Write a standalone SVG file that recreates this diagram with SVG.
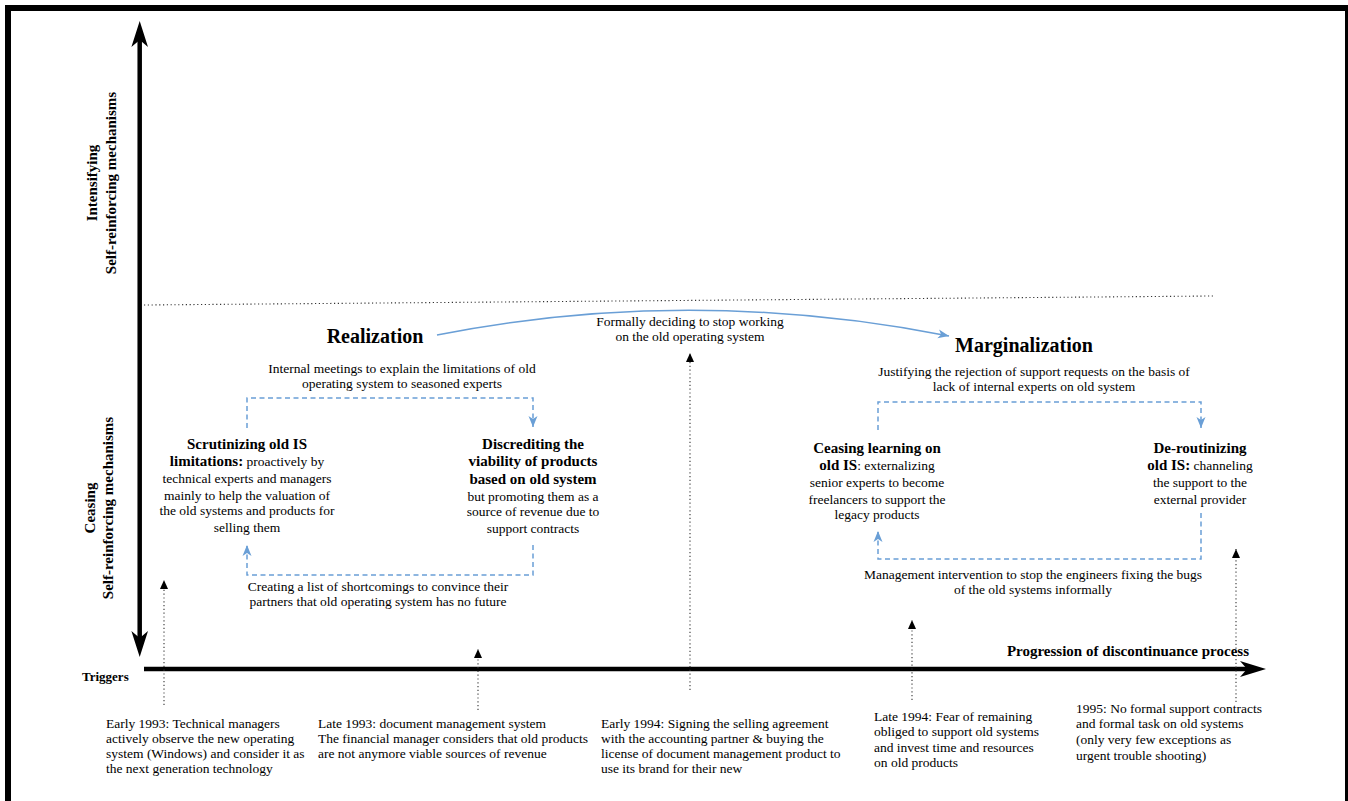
<svg xmlns="http://www.w3.org/2000/svg" width="1348" height="801" viewBox="0 0 1348 801">
<style>
text{font-family:"Liberation Serif","Times New Roman",serif;fill:#000}
.t{font-size:13.5px}
.c{text-anchor:middle}
.b{font-weight:bold}
.h{font-size:15px;font-weight:bold}
.big{font-size:20px;font-weight:bold}
.dot{stroke:#333;stroke-width:1.1;stroke-dasharray:1.2 2.6;fill:none}
.dash{stroke:#6a9fd6;stroke-width:1.5;stroke-dasharray:5 3.5;fill:none}
.axis{stroke:#000;stroke-width:4.5;fill:none}
</style>
<defs>
<marker id="bh" markerUnits="userSpaceOnUse" markerWidth="12" markerHeight="10" refX="11" refY="5" orient="auto">
<path d="M0,0.5 L11,5 L0,9.5 L3,5 z" fill="#6a9fd6"/>
</marker>
<marker id="kh" markerUnits="userSpaceOnUse" markerWidth="10" markerHeight="10" refX="9" refY="4.5" orient="auto">
<path d="M0,0.5 L9,4.5 L0,8.5 z" fill="#000"/>
</marker>
</defs>
<rect x="8" y="8" width="1340" height="800" fill="#fff" stroke="#000" stroke-width="6"/>

<g id="connectors">
<line class="axis" x1="139.7" y1="40" x2="139.7" y2="640"/>
<polygon points="139.7,21 148,47 139.7,40 131.4,47" fill="#000"/>
<polygon points="139.7,657 148,631 139.7,638 131.4,631" fill="#000"/>
<line class="axis" x1="144" y1="669" x2="1250" y2="669"/>
<polygon points="1266,669 1240,661 1247,669 1240,677" fill="#000"/>
<line class="dot" x1="144" y1="305" x2="1213" y2="296"/>
<path d="M437,335 Q690,285 949,336" stroke="#6a9fd6" stroke-width="1.5" fill="none" marker-end="url(#bh)"/>
<path class="dash" d="M247,428 V398 H533 V427" marker-end="url(#bh)"/>
<path class="dash" d="M533,545 V575 H247 V545" marker-end="url(#bh)"/>
<path class="dash" d="M878,430 V402 H1201 V428" marker-end="url(#bh)"/>
<path class="dash" d="M1201,513 V559 H878 V531" marker-end="url(#bh)"/>
<line class="dot" x1="164" y1="705" x2="164" y2="580" marker-end="url(#kh)"/>
<line class="dot" x1="478" y1="710" x2="478" y2="649" marker-end="url(#kh)"/>
<line class="dot" x1="690" y1="690" x2="690" y2="353" marker-end="url(#kh)"/>
<line class="dot" x1="912" y1="700" x2="912" y2="620" marker-end="url(#kh)"/>
<line class="dot" x1="1236" y1="702" x2="1236" y2="549" marker-end="url(#kh)"/>
</g>

<g id="axis-labels">
<text class="h c" transform="translate(97,183) rotate(-90)">Intensifying</text>
<text class="h c" transform="translate(116,183) rotate(-90)">Self-reinforcing mechanisms</text>
<text class="h c" transform="translate(95,508) rotate(-90)">Ceasing</text>
<text class="h c" transform="translate(113,508) rotate(-90)">Self-reinforcing mechanisms</text>
<text class="b" x="82" y="681" font-size="13">Triggers</text>
<text class="h" x="1249" y="656" text-anchor="end">Progression of discontinuance process</text>
</g>

<g id="realization">
<text class="big c" x="375" y="343">Realization</text>
</g>
<g id="marginalization">
<text class="big c" x="1024" y="352">Marginalization</text>
</g>

<g id="formally">
<text class="t c" x="690" y="326">Formally deciding to stop working</text>
<text class="t c" x="690" y="341">on the old operating system</text>
</g>

<g id="internal-meetings">
<text class="t c" x="402" y="373">Internal meetings to explain the limitations of old</text>
<text class="t c" x="402" y="388">operating system to seasoned experts</text>
</g>

<g id="scrutinizing">
<text class="h c" x="247" y="449">Scrutinizing old IS</text>
<text class="t c" x="247" y="466"><tspan class="b" font-size="15">limitations:</tspan> proactively by</text>
<text class="t c" x="247" y="483">technical experts and managers</text>
<text class="t c" x="247" y="500">mainly to help the valuation of</text>
<text class="t c" x="247" y="515">the old systems and products for</text>
<text class="t c" x="247" y="532">selling them</text>
</g>

<g id="discrediting">
<text class="h c" x="533" y="449">Discrediting the</text>
<text class="h c" x="533" y="466">viability of products</text>
<text class="h c" x="533" y="484">based on old system</text>
<text class="t c" x="533" y="501">but promoting them as a</text>
<text class="t c" x="533" y="516">source of revenue due to</text>
<text class="t c" x="533" y="533">support contracts</text>
</g>

<g id="creating-list">
<text class="t c" x="378" y="591">Creating a list of shortcomings to convince their</text>
<text class="t c" x="378" y="606">partners that old operating system has no future</text>
</g>

<g id="justifying">
<text class="t c" x="1034" y="376">Justifying the rejection of support requests on the basis of</text>
<text class="t c" x="1034" y="391">lack of internal experts on old system</text>
</g>

<g id="ceasing-learning">
<text class="h c" x="877" y="453">Ceasing learning on</text>
<text class="t c" x="877" y="470"><tspan class="b" font-size="15">old IS</tspan>: externalizing</text>
<text class="t c" x="877" y="487">senior experts to become</text>
<text class="t c" x="877" y="504">freelancers to support the</text>
<text class="t c" x="877" y="519">legacy products</text>
</g>

<g id="derouting">
<text class="h c" x="1200" y="453">De-routinizing</text>
<text class="t c" x="1200" y="470"><tspan class="b" font-size="15">old IS:</tspan> channeling</text>
<text class="t c" x="1200" y="487">the support to the</text>
<text class="t c" x="1200" y="504">external provider</text>
</g>

<g id="management">
<text class="t c" x="1033" y="579">Management intervention to stop the engineers fixing the bugs</text>
<text class="t c" x="1033" y="594">of the old systems informally</text>
</g>

<g id="early-1993">
<text class="t" x="106" y="728">Early 1993: Technical managers</text>
<text class="t" x="106" y="743">actively observe the new operating</text>
<text class="t" x="106" y="758">system (Windows) and consider it as</text>
<text class="t" x="106" y="773">the next generation technology</text>
</g>
<g id="late-1993">
<text class="t" x="318" y="728">Late 1993: document management system</text>
<text class="t" x="318" y="743">The financial manager considers that old products</text>
<text class="t" x="318" y="758">are not anymore viable sources of revenue</text>
</g>
<g id="early-1994">
<text class="t" x="601" y="728">Early 1994: Signing the selling agreement</text>
<text class="t" x="601" y="743">with the accounting partner &amp; buying the</text>
<text class="t" x="601" y="758">license of document management product to</text>
<text class="t" x="601" y="773">use its brand for their new</text>
</g>
<g id="late-1994">
<text class="t" x="874" y="721">Late 1994: Fear of remaining</text>
<text class="t" x="874" y="736">obliged to support old systems</text>
<text class="t" x="874" y="752">and invest time and resources</text>
<text class="t" x="874" y="767">on old products</text>
</g>
<g id="y1995">
<text class="t" x="1076" y="713">1995: No formal support contracts</text>
<text class="t" x="1076" y="728">and formal task on old systems</text>
<text class="t" x="1076" y="744">(only very few exceptions as</text>
<text class="t" x="1076" y="760">urgent trouble shooting)</text>
</g>
</svg>
